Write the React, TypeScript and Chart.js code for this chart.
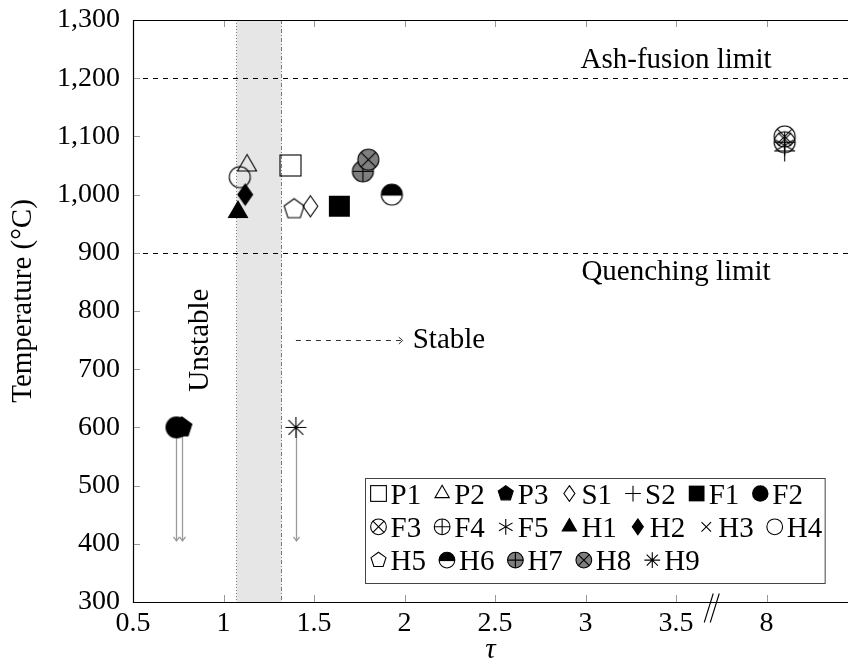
import React, { useEffect, useRef } from 'react';
import { Chart, registerables } from 'chart.js';

Chart.register(...registerables);

// ---------------- data ----------------
const seriesNames = ['P1', 'P2', 'P3', 'S1', 'S2', 'F1', 'F2', 'F3', 'F4', 'F5', 'H1', 'H2', 'H3', 'H4', 'H5', 'H6', 'H7', 'H8', 'H9'];
const tauValues = [1.37, 1.13, 0.77, 1.48, 8.1, 1.64, 0.74, 8.1, 8.1, 8.1, 1.08, 1.12, 8.1, 1.09, 1.39, 1.93, 1.77, 1.8, 1.4];
const temperatureValues = [1050, 1050, 600, 980, 1075, 980, 600, 1100, 1090, 1085, 970, 1000, 1095, 1030, 975, 1000, 1040, 1060, 600];
const markerKinds = [
  'square', 'triangle', 'pentagonFill', 'diamond', 'plus', 'squareFill', 'circleFill',
  'circleX', 'circlePlus', 'asterisk', 'triangleFill', 'diamondFill', 'cross', 'circle',
  'pentagon', 'halfCircle', 'grayCirclePlus', 'grayCircleX', 'star',
];

const xTickValues = [0.5, 1, 1.5, 2, 2.5, 3, 3.5, 8];
const yTickValues = [300, 400, 500, 600, 700, 800, 900, 1000, 1100, 1200, 1300];
const ashFusionLimit = 1200;
const quenchingLimit = 900;
const unstableBand = [1.07, 1.32];
const dropArrowTau = [0.74, 0.77, 1.4];
const dropArrowFrom = 600;
const dropArrowTo = 405;
const stableArrowTau = [1.4, 1.99];
const stableArrowTemp = 750;
const unstableLabelAt = [0.87, 750];
const limitLabelTau = 3.5;

// broken axis: tau = 8 is drawn where 4 would be
const BREAK_SHIFT = 4;
const mapTau = (t: number) => (t >= 5 ? t - BREAK_SHIFT : t);
const unmapTau = (v: number) => (v >= 3.75 ? v + BREAK_SHIFT : v);
const breakMarkAt = 3.7;

const FONT = '"Liberation Serif", "Times New Roman", serif';

// ---------------- markers ----------------
function markerRadius(kind: string): number {
  switch (kind) {
    case 'triangle':
    case 'triangleFill':
      return 11;
    case 'circleFill':
      return 11;
    case 'cross':
      return 9;
    default:
      return 10.5;
  }
}

function drawMarker(ctx: CanvasRenderingContext2D, kind: string, cx: number, cy: number, r: number) {
  ctx.save();
  ctx.lineWidth = 1.1;
  ctx.strokeStyle = '#000';
  ctx.fillStyle = '#000';
  ctx.setLineDash([]);
  const poly = (n: number, rr: number) => {
    ctx.beginPath();
    for (let i = 0; i < n; i++) {
      const a = -Math.PI / 2 + (i * 2 * Math.PI) / n;
      const px = cx + rr * Math.cos(a);
      const py = cy + rr * Math.sin(a);
      if (i === 0) ctx.moveTo(px, py);
      else ctx.lineTo(px, py);
    }
    ctx.closePath();
  };
  const rays = (angles: number[], rr: number) => {
    ctx.beginPath();
    for (const deg of angles) {
      const a = (deg * Math.PI) / 180;
      ctx.moveTo(cx - rr * Math.cos(a), cy - rr * Math.sin(a));
      ctx.lineTo(cx + rr * Math.cos(a), cy + rr * Math.sin(a));
    }
    ctx.stroke();
  };
  const circle = () => {
    ctx.beginPath();
    ctx.arc(cx, cy, r, 0, Math.PI * 2);
  };
  switch (kind) {
    case 'square':
      ctx.strokeRect(cx - r, cy - r, 2 * r, 2 * r);
      break;
    case 'squareFill':
      ctx.fillRect(cx - r, cy - r, 2 * r, 2 * r);
      break;
    case 'triangle':
      poly(3, r);
      ctx.stroke();
      break;
    case 'triangleFill':
      poly(3, r);
      ctx.fill();
      ctx.stroke();
      break;
    case 'pentagon':
      poly(5, r);
      ctx.stroke();
      break;
    case 'pentagonFill':
      poly(5, r);
      ctx.fill();
      ctx.stroke();
      break;
    case 'diamond':
    case 'diamondFill':
      ctx.beginPath();
      ctx.moveTo(cx, cy - r);
      ctx.lineTo(cx + r * 0.7, cy);
      ctx.lineTo(cx, cy + r);
      ctx.lineTo(cx - r * 0.7, cy);
      ctx.closePath();
      if (kind === 'diamondFill') ctx.fill();
      ctx.stroke();
      break;
    case 'plus':
      rays([0, 90], r);
      break;
    case 'cross':
      rays([45, 135], r);
      break;
    case 'asterisk':
      rays([90, 30, 150], r);
      break;
    case 'star':
      rays([0, 45, 90, 135], r);
      break;
    case 'circle':
      circle();
      ctx.stroke();
      break;
    case 'circleFill':
      circle();
      ctx.fill();
      break;
    case 'circleX':
    case 'circlePlus':
    case 'grayCircleX':
    case 'grayCirclePlus': {
      circle();
      if (kind.startsWith('gray')) {
        ctx.fillStyle = '#7f7f7f';
        ctx.fill();
      }
      ctx.stroke();
      if (kind.endsWith('X')) rays([45, 135], r);
      else rays([0, 90], r);
      break;
    }
    case 'halfCircle':
      ctx.beginPath();
      ctx.arc(cx, cy, r, Math.PI, Math.PI * 2);
      ctx.closePath();
      ctx.fill();
      circle();
      ctx.stroke();
      ctx.lineWidth = 2;
      ctx.beginPath();
      ctx.moveTo(cx - r, cy);
      ctx.lineTo(cx + r, cy);
      ctx.stroke();
      break;
  }
  ctx.restore();
}

function makeMarkerCanvas(kind: string, r: number): HTMLCanvasElement {
  const size = Math.ceil(2 * r + 6);
  const c = document.createElement('canvas');
  c.width = size;
  c.height = size;
  const ctx = c.getContext('2d')!;
  drawMarker(ctx, kind, size / 2, size / 2, r);
  return c;
}

const crisp = (v: number) => Math.round(v) + 0.5;

// ---------------- plugins ----------------
const annotationPlugin = {
  id: 'annotations',
  beforeDatasetsDraw(chart: any) {
    const { ctx, chartArea: a, scales } = chart;
    const x = scales.x;
    const y = scales.y;
    ctx.save();

    // unstable band
    const bx0 = crisp(x.getPixelForValue(unstableBand[0]));
    const bx1 = crisp(x.getPixelForValue(unstableBand[1]));
    ctx.fillStyle = '#e6e6e6';
    ctx.fillRect(bx0, a.top, bx1 - bx0, a.bottom - a.top);
    ctx.strokeStyle = '#7a7a7a';
    ctx.lineWidth = 1;
    ctx.setLineDash([1, 2]);
    ctx.beginPath();
    ctx.moveTo(bx0, a.top);
    ctx.lineTo(bx0, a.bottom);
    ctx.stroke();
    ctx.setLineDash([4, 2, 1, 2]);
    ctx.beginPath();
    ctx.moveTo(bx1, a.top);
    ctx.lineTo(bx1, a.bottom);
    ctx.stroke();

    // limit lines
    ctx.strokeStyle = '#000';
    ctx.setLineDash([5, 5]);
    for (const t of [ashFusionLimit, quenchingLimit]) {
      const py = crisp(y.getPixelForValue(t));
      ctx.beginPath();
      ctx.moveTo(a.left, py);
      ctx.lineTo(a.right, py);
      ctx.stroke();
    }
    ctx.setLineDash([]);

    // limit labels
    ctx.fillStyle = '#000';
    ctx.font = `29px ${FONT}`;
    ctx.textAlign = 'center';
    ctx.textBaseline = 'middle';
    const lx = x.getPixelForValue(limitLabelTau);
    ctx.fillText('Ash-fusion limit', lx, y.getPixelForValue(ashFusionLimit) - 18);
    ctx.fillText('Quenching limit', lx, y.getPixelForValue(quenchingLimit) + 20);

    // Unstable (rotated)
    ctx.save();
    ctx.translate(x.getPixelForValue(unstableLabelAt[0]), y.getPixelForValue(unstableLabelAt[1]));
    ctx.rotate(-Math.PI / 2);
    ctx.fillText('Unstable', 0, 0);
    ctx.restore();

    // Stable dashed arrow
    const sy = crisp(y.getPixelForValue(stableArrowTemp));
    const sx0 = x.getPixelForValue(stableArrowTau[0]);
    const sx1 = x.getPixelForValue(stableArrowTau[1]);
    ctx.strokeStyle = '#333';
    ctx.lineWidth = 1;
    ctx.setLineDash([5, 5]);
    ctx.beginPath();
    ctx.moveTo(sx0, sy);
    ctx.lineTo(sx1 - 1, sy);
    ctx.stroke();
    ctx.setLineDash([]);
    ctx.beginPath();
    ctx.moveTo(sx1 - 4, sy - 3.5);
    ctx.lineTo(sx1, sy);
    ctx.lineTo(sx1 - 4, sy + 3.5);
    ctx.stroke();
    ctx.textAlign = 'left';
    ctx.fillStyle = '#000';
    ctx.fillText('Stable', sx1 + 10, sy);

    // drop arrows (gray)
    ctx.strokeStyle = '#9a9a9a';
    ctx.lineWidth = 1.3;
    for (const t of dropArrowTau) {
      const px = crisp(x.getPixelForValue(t));
      const py0 = y.getPixelForValue(dropArrowFrom);
      const py1 = y.getPixelForValue(dropArrowTo);
      ctx.beginPath();
      ctx.moveTo(px, py0);
      ctx.lineTo(px, py1);
      ctx.stroke();
      ctx.beginPath();
      ctx.moveTo(px - 3, py1 - 4);
      ctx.lineTo(px, py1);
      ctx.lineTo(px + 3, py1 - 4);
      ctx.stroke();
    }
    ctx.restore();
  },
  afterDatasetsDraw(chart: any) {
    const { ctx, chartArea: a, scales } = chart;
    const x = scales.x;
    const y = scales.y;
    ctx.save();
    // tick marks (inward, gray)
    ctx.strokeStyle = '#9a9a9a';
    ctx.lineWidth = 1;
    const tl = 7;
    for (const t of xTickValues) {
      const px = crisp(x.getPixelForValue(mapTau(t)));
      ctx.beginPath();
      ctx.moveTo(px, a.bottom);
      ctx.lineTo(px, a.bottom - tl);
      ctx.moveTo(px, a.top);
      ctx.lineTo(px, a.top + tl);
      ctx.stroke();
    }
    for (const t of yTickValues) {
      const py = crisp(y.getPixelForValue(t));
      ctx.beginPath();
      ctx.moveTo(a.left, py);
      ctx.lineTo(a.left + tl, py);
      ctx.stroke();
    }
    // frame: left, bottom, top
    ctx.strokeStyle = '#000';
    ctx.lineWidth = 1.2;
    const l = crisp(a.left);
    const b = crisp(a.bottom);
    const tp = crisp(a.top);
    ctx.beginPath();
    ctx.moveTo(a.right, tp);
    ctx.lineTo(l, tp);
    ctx.lineTo(l, b);
    ctx.lineTo(a.right, b);
    ctx.stroke();
    // axis break mark
    const bx = x.getPixelForValue(breakMarkAt);
    ctx.lineWidth = 1.1;
    ctx.beginPath();
    for (const off of [-3, 3]) {
      ctx.moveTo(bx + off - 5, b + 20);
      ctx.lineTo(bx + off + 4, b - 9);
    }
    ctx.stroke();
    ctx.restore();
  },
};

const titlePlugin = {
  id: 'axisTitles',
  afterDraw(chart: any) {
    const { ctx, chartArea: a } = chart;
    ctx.save();
    ctx.fillStyle = '#000';
    ctx.textAlign = 'center';
    ctx.textBaseline = 'middle';
    ctx.font = `29px ${FONT}`;
    ctx.translate(23, 301);
    ctx.rotate(-Math.PI / 2);
    ctx.fillText('Temperature (°C)', 0, 0);
    ctx.restore();
    ctx.save();
    ctx.fillStyle = '#000';
    ctx.textAlign = 'center';
    ctx.textBaseline = 'middle';
    ctx.font = `italic 29px ${FONT}`;
    ctx.fillText('τ', (a.left + a.right) / 2, a.bottom + 48);
    ctx.restore();
  },
};

const legendPlugin = {
  id: 'legendBox',
  afterDraw(chart: any) {
    const { ctx, chartArea: a } = chart;
    ctx.save();
    ctx.font = `29px ${FONT}`;
    const cols = 7;
    const rows: number[][] = [];
    seriesNames.forEach((_, i) => {
      if (i % cols === 0) rows.push([]);
      rows[rows.length - 1].push(i);
    });
    const mW = 20;
    const g1 = 2;
    const g2 = 11;
    const padX = 3;
    const rowH = 33.3;
    const rowWidths = rows.map(
      (r) => r.reduce((s, i) => s + mW + g1 + ctx.measureText(seriesNames[i]).width + g2, 0) - g2,
    );
    const w = Math.max(...rowWidths) + 2 * padX;
    const h = 105;
    const x0 = crisp(a.right - 23 - w);
    const y0 = crisp(a.bottom - 19 - h);
    ctx.fillStyle = '#fff';
    ctx.fillRect(x0, y0, w, h);
    ctx.strokeStyle = '#444';
    ctx.lineWidth = 1;
    ctx.strokeRect(x0, y0, w, h);
    ctx.textAlign = 'left';
    ctx.textBaseline = 'alphabetic';
    rows.forEach((r, ri) => {
      let cx = x0 + padX;
      const cy = y0 + 15 + rowH * ri;
      r.forEach((i) => {
        drawMarker(ctx, markerKinds[i], cx + mW / 2, cy, markerRadius(markerKinds[i]) * 0.75);
        cx += mW + g1;
        ctx.fillStyle = '#000';
        ctx.fillText(seriesNames[i], cx, cy + 10);
        cx += ctx.measureText(seriesNames[i]).width + g2;
      });
    });
    ctx.restore();
  },
};

// ---------------- component ----------------
export default function App() {
  const ref = useRef<HTMLCanvasElement | null>(null);
  useEffect(() => {
    const canvas = ref.current!;
    const datasets = seriesNames.map((name, i) => ({
      label: name,
      data: [{ x: mapTau(tauValues[i]), y: temperatureValues[i] }],
      pointStyle: makeMarkerCanvas(markerKinds[i], markerRadius(markerKinds[i])) as any,
      pointRadius: 10,
      pointHoverRadius: 10,
      order: -i,
    }));
    const chart = new Chart(canvas, {
      type: 'scatter',
      data: { datasets },
      options: {
        animation: false,
        responsive: true,
        maintainAspectRatio: false,
        events: [],
        layout: { autoPadding: false, padding: { top: 20, right: 0, left: 0, bottom: 0 } },
        plugins: { legend: { display: false }, tooltip: { enabled: false } },
        scales: {
          x: {
            type: 'linear',
            min: 0.5,
            max: 4.45,
            afterBuildTicks: (s: any) => {
              s.ticks = xTickValues.map((v) => ({ value: mapTau(v) }));
            },
            afterFit: (s: any) => {
              s.height = 62;
              s.paddingLeft = 0;
              s.paddingRight = 0;
              s.paddingTop = 0;
              s.paddingBottom = 0;
            },
            ticks: {
              autoSkip: false,
              maxRotation: 0,
              padding: 5,
              color: '#000',
              font: { family: FONT, size: 28 },
              callback: (v: any) => String(unmapTau(Number(v))),
            },
            grid: { display: false, drawTicks: false },
            border: { display: false },
          },
          y: {
            type: 'linear',
            min: 300,
            max: 1300,
            afterBuildTicks: (s: any) => {
              s.ticks = yTickValues.map((v) => ({ value: v }));
            },
            afterFit: (s: any) => {
              s.width = 133;
              s.paddingLeft = 0;
              s.paddingRight = 0;
              s.paddingTop = 0;
              s.paddingBottom = 0;
            },
            ticks: {
              padding: 13,
              color: '#000',
              font: { family: FONT, size: 28 },
              callback: (v: any) => Number(v).toLocaleString('en-US'),
            },
            grid: { display: false, drawTicks: false },
            border: { display: false },
          },
        },
      },
      plugins: [annotationPlugin, titlePlugin, legendPlugin],
    });
    return () => chart.destroy();
  }, []);
  return (
    <div style={{ position: 'fixed', left: 0, top: 0, width: 848, height: 664, background: '#fff' }}>
      <canvas ref={ref} />
    </div>
  );
}
